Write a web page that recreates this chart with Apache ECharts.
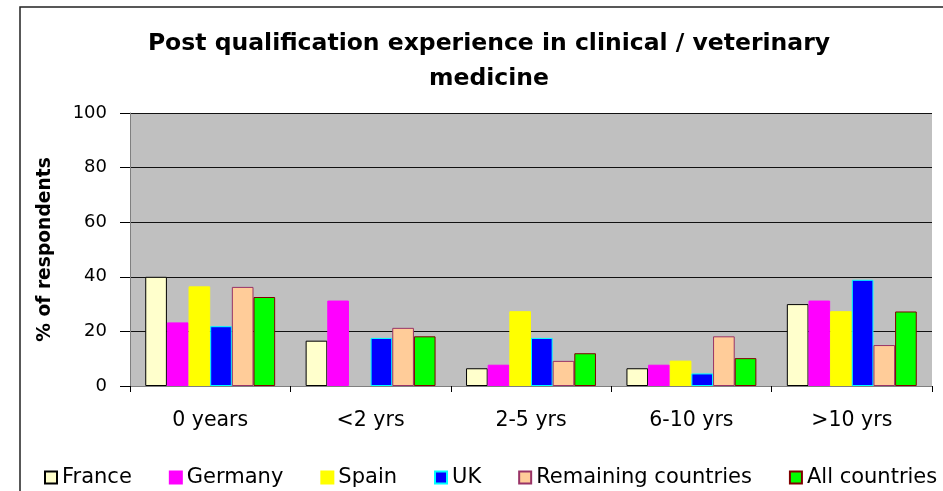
<!DOCTYPE html>
<html>
<head>
<meta charset="utf-8">
<script src="https://cdn.jsdelivr.net/npm/echarts@6/dist/echarts.min.js"></script>
<style>
  html, body { margin: 0; padding: 0; background: #fff; }
  #chart { width: 943px; height: 491px; }
</style>
</head>
<body>
<div id="chart"></div>
<script>
// data (% of respondents)
const categories = ["0 years", "<2 yrs", "2-5 yrs", "6-10 yrs", ">10 yrs"];
const france = [40, 16.6, 6.5, 6.5, 30];
const germany = [23.3, 31.3, 7.8, 7.8, 31.3];
const spain = [36.5, 0, 27.4, 9.3, 27.4];
const uk = [21.9, 17.6, 17.6, 4.6, 38.9];
const remaining = [36.3, 21.3, 9.2, 18.2, 15];
const allCountries = [32.6, 18.2, 12, 10.2, 27.3];

const font = "DejaVu Sans";

const mkSeries = (name, data, fill, border) => ({
  name: name,
  type: "bar",
  // zero-height bars are not drawn in the original, so drop their outline
  data: data.map((v) => (v === 0 ? { value: 0, itemStyle: { borderWidth: 0 } } : v)),
  barGap: 0,
  barCategoryGap: "19%",
  itemStyle: { color: fill, borderColor: border, borderWidth: 1 },
  emphasis: { disabled: true },
});

const chart = echarts.init(document.getElementById("chart"));
chart.setOption({
  animation: false,
  backgroundColor: "#fff",
  textStyle: { fontFamily: font, color: "#000" },
  title: {
    text: "Post qualification experience in clinical / veterinary\nmedicine",
    left: 484,
    textAlign: "center",
    top: 21,
    textStyle: { fontFamily: font, fontSize: 23.5, fontWeight: "bold", lineHeight: 35, color: "#000" },
  },
  graphic: [
    {
      type: "rect",
      shape: { x: 20, y: 7, width: 1000, height: 600 },
      style: { fill: "none", stroke: "#222", lineWidth: 1.5 },
      silent: true,
    },
  ],
  grid: {
    left: 130,
    right: 11,
    top: 113,
    bottom: 105,
    show: true,
    backgroundColor: "#C0C0C0",
    borderWidth: 0,
  },
  legend: {
    left: 39,
    top: 462,
    itemWidth: 12,
    itemHeight: 12,
    itemGap: 37,
    icon: "rect",
    textStyle: { fontFamily: font, fontSize: 21, color: "#000" },
    data: ["France", "Germany", "Spain", "UK", "Remaining countries", "All countries"],
  },
  xAxis: {
    type: "category",
    data: categories,
    axisLine: { lineStyle: { color: "#808080", width: 1 } },
    axisTick: { show: true, length: 6, lineStyle: { color: "#000" } },
    axisLabel: { fontFamily: font, fontSize: 20.5, color: "#000", margin: 24 },
  },
  yAxis: {
    type: "value",
    min: 0,
    max: 100,
    interval: 20,
    name: "% of respondents",
    nameLocation: "middle",
    nameGap: 75,
    nameTextStyle: { fontFamily: font, fontSize: 18.7, fontWeight: "bold", color: "#000" },
    axisLine: { show: true, lineStyle: { color: "#808080" } },
    axisTick: { show: true, length: 10, lineStyle: { color: "#000" } },
    axisLabel: { fontFamily: font, fontSize: 18, color: "#000", margin: 23 },
    splitLine: { lineStyle: { color: "#111", width: 1 } },
  },
  series: [
    mkSeries("France", france, "#FFFFCC", "#000000"),
    mkSeries("Germany", germany, "#FF00FF", "#FF00FF"),
    mkSeries("Spain", spain, "#FFFF00", "#FFFF00"),
    mkSeries("UK", uk, "#0000FF", "#00FFFF"),
    mkSeries("Remaining countries", remaining, "#FFCC99", "#993366"),
    mkSeries("All countries", allCountries, "#00FF00", "#800000"),
  ],
});
</script>
</body>
</html>
